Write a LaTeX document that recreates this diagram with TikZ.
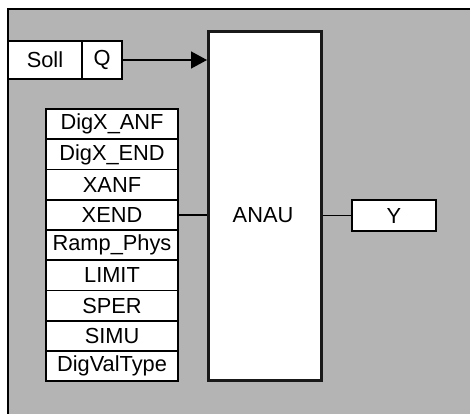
\documentclass[tikz,border=0pt]{standalone}
\usepackage{fontspec}
\setmainfont{Liberation Sans}
\usetikzlibrary{arrows.meta}
\definecolor{bggray}{HTML}{B4B4B4}
\begin{document}
\begin{tikzpicture}[x=1pt,y=-1pt,
  font=\fontsize{21.8}{24}\selectfont,
  box/.style={draw=black,fill=white,line width=1.5pt,inner sep=0pt,minimum height=30.25pt,minimum width=132pt},
  iobox/.style={draw=black,fill=white,line width=1.5pt,inner sep=0pt},
  wire/.style={line width=1.5pt}]
\useasboundingbox (0,0) rectangle (470,414);
\fill[bggray] (8,9) rectangle (470,414);
\draw[line width=2pt] (470,9) -- (8,9) -- (8,414);
% main block
\node[draw=black!90,fill=white,line width=3pt,minimum width=113pt,minimum height=349pt,inner sep=0pt] (blk) at (265,206) {};
\node at (263,215) {ANAU};
% top inputs
\node[iobox,minimum width=74pt,minimum height=38pt] (soll) at (45,60) {Soll};
\node[iobox,minimum width=40pt,minimum height=38pt] (q) at (102,60) {Q};
\draw[wire,-{Triangle[length=16pt,width=17pt]}] (q.east) -- (q.east -| blk.west);
% list
\node[box] (l1) at (112,124.1) {DigX\_ANF};
\node[box] (l2) at (112,154.4) {DigX\_END};
\node[box] (l3) at (112,184.6) {XANF};
\node[box] (l4) at (112,214.9) {XEND};
\node[box] (l5) at (112,245.1) {Ramp\_Phys};
\node[box] (l6) at (112,275.4) {LIMIT};
\node[box] (l7) at (112,305.6) {SPER};
\node[box] (l8) at (112,335.9) {SIMU};
\node[box] (l9) at (112,366.1) {DigValType};
\draw[wire] (l4.east) -- (l4.east -| blk.west);
% output
\node[iobox,minimum width=84pt,minimum height=31pt] (y) at (394,215.5) {Y};
\draw[wire] (blk.east |- y.west) -- (y.west);
\end{tikzpicture}
\end{document}
